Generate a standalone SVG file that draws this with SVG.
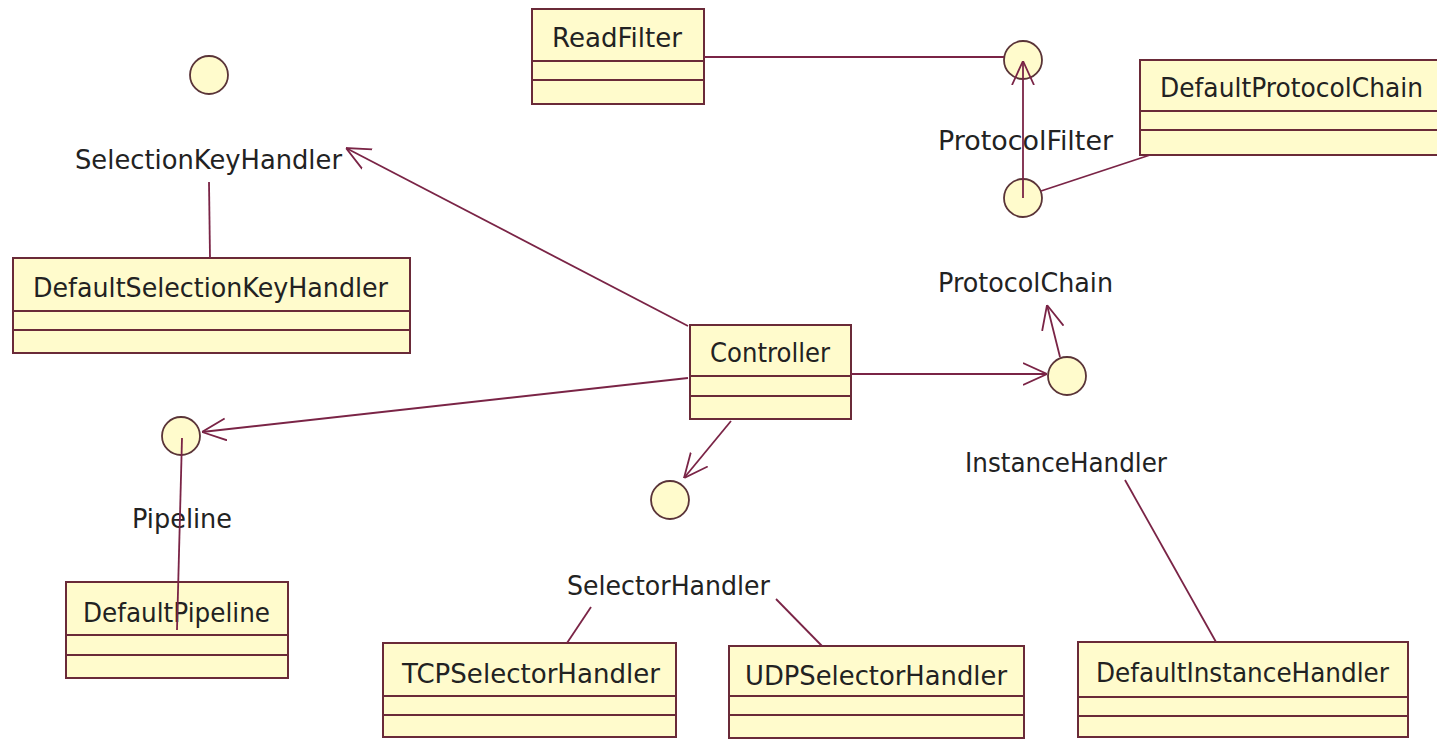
<svg xmlns="http://www.w3.org/2000/svg" width="1437" height="739" viewBox="0 0 1437 739">
  <style>
    .box { fill: #fffbcc; stroke: #6a2a38; stroke-width: 2; }
    .div { stroke: #6a2a38; stroke-width: 2; fill: none; }
    .iface { fill: #fffbcc; stroke: #5a3438; stroke-width: 1.8; }
    .lbl { font-family: "DejaVu Sans", "Liberation Sans", sans-serif; font-size: 27px; fill: #222222; }
    .conn { stroke: #7a2446; stroke-width: 1.8; fill: none; }
    .arr { marker-end: url(#open); }
  </style>
  <defs>
    <marker id="open" viewBox="0 0 24 24" refX="24" refY="12" markerWidth="24" markerHeight="24" markerUnits="userSpaceOnUse" orient="auto">
      <path d="M0,1 L24,12 L0,23" fill="none" stroke="#7a2446" stroke-width="1.8"/>
    </marker>
  </defs>
  <rect width="1437" height="739" fill="#ffffff"/>

  <!-- classes -->
  <g id="ReadFilter">
    <rect class="box" x="532" y="9" width="172" height="95"/>
    <line class="div" x1="532" y1="61" x2="704" y2="61"/>
    <line class="div" x1="532" y1="80" x2="704" y2="80"/>
    <text class="lbl" x="552" y="47" textLength="130" lengthAdjust="spacingAndGlyphs">ReadFilter</text>
  </g>
  <g id="DefaultProtocolChain">
    <rect class="box" x="1140" y="60" width="298" height="95"/>
    <line class="div" x1="1140" y1="111" x2="1438" y2="111"/>
    <line class="div" x1="1140" y1="130" x2="1438" y2="130"/>
    <text class="lbl" x="1160" y="97" textLength="263" lengthAdjust="spacingAndGlyphs">DefaultProtocolChain</text>
  </g>
  <g id="DefaultSelectionKeyHandler">
    <rect class="box" x="13" y="258" width="397" height="95"/>
    <line class="div" x1="13" y1="311" x2="410" y2="311"/>
    <line class="div" x1="13" y1="330" x2="410" y2="330"/>
    <text class="lbl" x="33" y="297" textLength="355" lengthAdjust="spacingAndGlyphs">DefaultSelectionKeyHandler</text>
  </g>
  <g id="Controller">
    <rect class="box" x="690" y="325" width="161" height="94"/>
    <line class="div" x1="690" y1="376" x2="851" y2="376"/>
    <line class="div" x1="690" y1="396" x2="851" y2="396"/>
    <text class="lbl" x="710" y="362" textLength="120" lengthAdjust="spacingAndGlyphs">Controller</text>
  </g>
  <g id="DefaultPipeline">
    <rect class="box" x="66" y="582" width="222" height="96"/>
    <line class="div" x1="66" y1="635" x2="288" y2="635"/>
    <line class="div" x1="66" y1="655" x2="288" y2="655"/>
    <text class="lbl" x="83" y="622" textLength="187" lengthAdjust="spacingAndGlyphs">DefaultPipeline</text>
  </g>
  <g id="TCPSelectorHandler">
    <rect class="box" x="383" y="643" width="293" height="94"/>
    <line class="div" x1="383" y1="696" x2="676" y2="696"/>
    <line class="div" x1="383" y1="715" x2="676" y2="715"/>
    <text class="lbl" x="402" y="683" textLength="258" lengthAdjust="spacingAndGlyphs">TCPSelectorHandler</text>
  </g>
  <g id="UDPSelectorHandler">
    <rect class="box" x="729" y="646" width="295" height="92"/>
    <line class="div" x1="729" y1="696" x2="1024" y2="696"/>
    <line class="div" x1="729" y1="715" x2="1024" y2="715"/>
    <text class="lbl" x="745" y="685" textLength="262" lengthAdjust="spacingAndGlyphs">UDPSelectorHandler</text>
  </g>
  <g id="DefaultInstanceHandler">
    <rect class="box" x="1078" y="642" width="330" height="95"/>
    <line class="div" x1="1078" y1="697" x2="1408" y2="697"/>
    <line class="div" x1="1078" y1="716" x2="1408" y2="716"/>
    <text class="lbl" x="1096" y="682" textLength="293" lengthAdjust="spacingAndGlyphs">DefaultInstanceHandler</text>
  </g>

  <!-- interfaces (lollipop circles with their names) -->
  <g id="SelectionKeyHandler">
    <circle class="iface" cx="209" cy="75" r="19"/>
    <text class="lbl" x="75" y="169" textLength="267" lengthAdjust="spacingAndGlyphs">SelectionKeyHandler</text>
  </g>
  <g id="ProtocolFilter">
    <circle class="iface" cx="1023" cy="60" r="19"/>
    <text class="lbl" x="938" y="150" textLength="175" lengthAdjust="spacingAndGlyphs">ProtocolFilter</text>
  </g>
  <g id="ProtocolFilterImpl">
    <circle class="iface" cx="1023" cy="198" r="19"/>
  </g>
  <g id="ProtocolChain">
    <circle class="iface" cx="1067" cy="376" r="19"/>
    <text class="lbl" x="938" y="292" textLength="175" lengthAdjust="spacingAndGlyphs">ProtocolChain</text>
  </g>
  <g id="Pipeline">
    <circle class="iface" cx="181" cy="436" r="19"/>
    <text class="lbl" x="132" y="528" textLength="100" lengthAdjust="spacingAndGlyphs">Pipeline</text>
  </g>
  <g id="SelectorHandler">
    <circle class="iface" cx="670" cy="500" r="19"/>
    <text class="lbl" x="567" y="595" textLength="203" lengthAdjust="spacingAndGlyphs">SelectorHandler</text>
  </g>
  <g id="InstanceHandler">
    <text class="lbl" x="965" y="472" textLength="202" lengthAdjust="spacingAndGlyphs">InstanceHandler</text>
  </g>

  <!-- connectors -->
  <g id="connectors">
    <line class="conn" x1="704" y1="57" x2="1004" y2="57"/>
    <line class="conn arr" x1="1023" y1="198" x2="1023" y2="61"/>
    <line class="conn" x1="1041" y1="191" x2="1150" y2="155"/>
    <line class="conn arr" x1="688" y1="326" x2="346" y2="148"/>
    <line class="conn" x1="209" y1="182" x2="210" y2="258"/>
    <line class="conn arr" x1="688" y1="378" x2="202" y2="432"/>
    <line class="conn" x1="182" y1="438" x2="177" y2="630"/>
    <line class="conn arr" x1="851" y1="374" x2="1047" y2="374"/>
    <line class="conn arr" x1="1060" y1="357" x2="1047" y2="305"/>
    <line class="conn arr" x1="731" y1="421" x2="684" y2="478"/>
    <line class="conn" x1="591" y1="607" x2="567" y2="643"/>
    <line class="conn" x1="776" y1="599" x2="822" y2="646"/>
    <line class="conn" x1="1125" y1="480" x2="1216" y2="642"/>
  </g>
</svg>
